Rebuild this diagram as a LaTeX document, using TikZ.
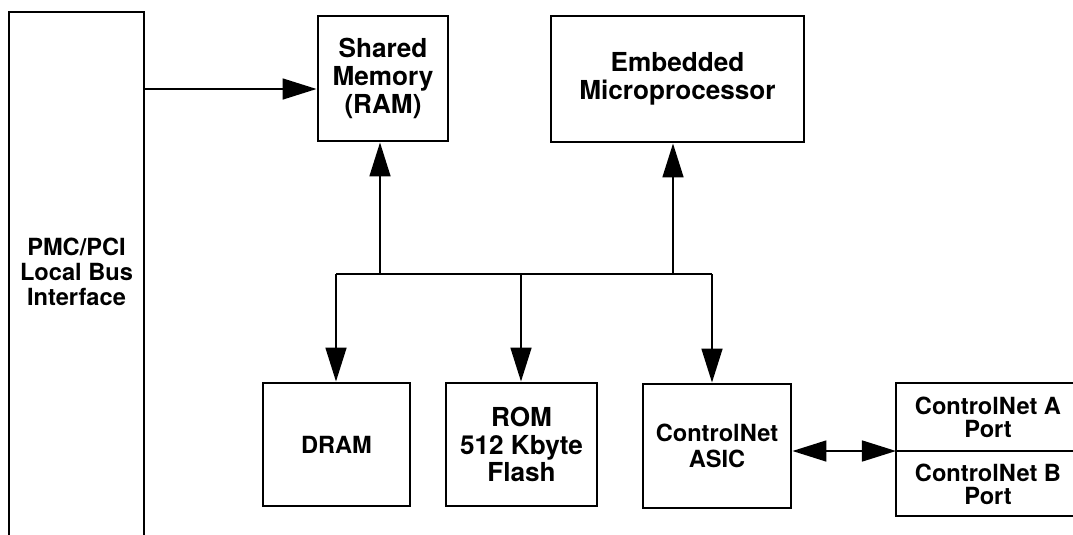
\documentclass[tikz,border=0pt]{standalone}
\usepackage{fontspec}
\setmainfont{TeX Gyre Heros}
\usetikzlibrary{arrows.meta}
\tikzset{
  blk/.style={draw, line width=2pt, align=center, inner sep=0pt,
    font=\bfseries\fontsize{16.8}{19}\selectfont},
  big/.style={font=\bfseries\fontsize{18.6}{19.8}\selectfont},
  txt/.style={align=center, inner sep=0pt, font=\bfseries\fontsize{16.8}{17.7}\selectfont},
  link/.style={line width=1.6pt, -{Triangle[length=0.85cm,width=0.52cm]}},
  biglink/.style={line width=1.6pt, {Triangle[length=0.85cm,width=0.52cm]}-{Triangle[length=0.85cm,width=0.52cm]}},
}
\begin{document}
\begin{tikzpicture}[x=0.025cm,y=-0.025cm]
  \useasboundingbox (0,0) rectangle (1073,534);

  \draw[line width=2pt] (9,560) -- (9,12) -- (144,12) -- (144,560);
  \node[txt] (pmc) at (76.5,272) {PMC/PCI\\Local Bus\\Interface};

  \node[blk, big, minimum width=3.25cm, minimum height=3.125cm] (shm) at (383,78.5) {Shared\\Memory\\(RAM)};
  \node[blk, big, minimum width=6.325cm, minimum height=3.15cm] (cpu) at (677.5,79) {Embedded\\Microprocessor};

  \node[blk, minimum width=3.675cm, minimum height=3.075cm] (dram) at (336.5,444.5) {DRAM};
  \node[blk, big, minimum width=3.775cm, minimum height=3.075cm] (rom) at (521.5,444.5) {ROM\\512 Kbyte\\Flash};
  \node[blk, minimum width=3.7cm, minimum height=3.1cm] (asic) at (717,446) {ControlNet\\ASIC};

  \draw[line width=2pt] (1100,383) -- (896,383) -- (896,516) -- (1100,516);
  \draw[line width=2pt] (896,451) -- (1100,451);
  \node[txt, font=\bfseries\fontsize{16.8}{16.5}\selectfont] (porta) at (988,417) {ControlNet A\\Port};
  \node[txt, font=\bfseries\fontsize{16.8}{16.5}\selectfont] (portb) at (988,484) {ControlNet B\\Port};

  \coordinate (pmcout) at (144,89);
  \coordinate (busL) at (336,274);
  \coordinate (busR) at (712,274);
  \coordinate (busshm) at (380,274);
  \coordinate (buscpu) at (673,274);
  \coordinate (busrom) at (521,274);
  \coordinate (portmid) at (896,451);

  \draw[link] (pmcout) -- (pmcout -| shm.west);
  \draw[line width=1.6pt] (busL) -- (busR);
  \draw[link] (busshm) -- (busshm |- shm.south);
  \draw[link] (buscpu) -- (buscpu |- cpu.south);
  \draw[link] (busL) -- (busL |- dram.north);
  \draw[link] (busrom) -- (busrom |- rom.north);
  \draw[link] (busR) -- (busR |- asic.north);
  \draw[biglink] (asic.east |- portmid) -- (portmid);
\end{tikzpicture}
\end{document}
